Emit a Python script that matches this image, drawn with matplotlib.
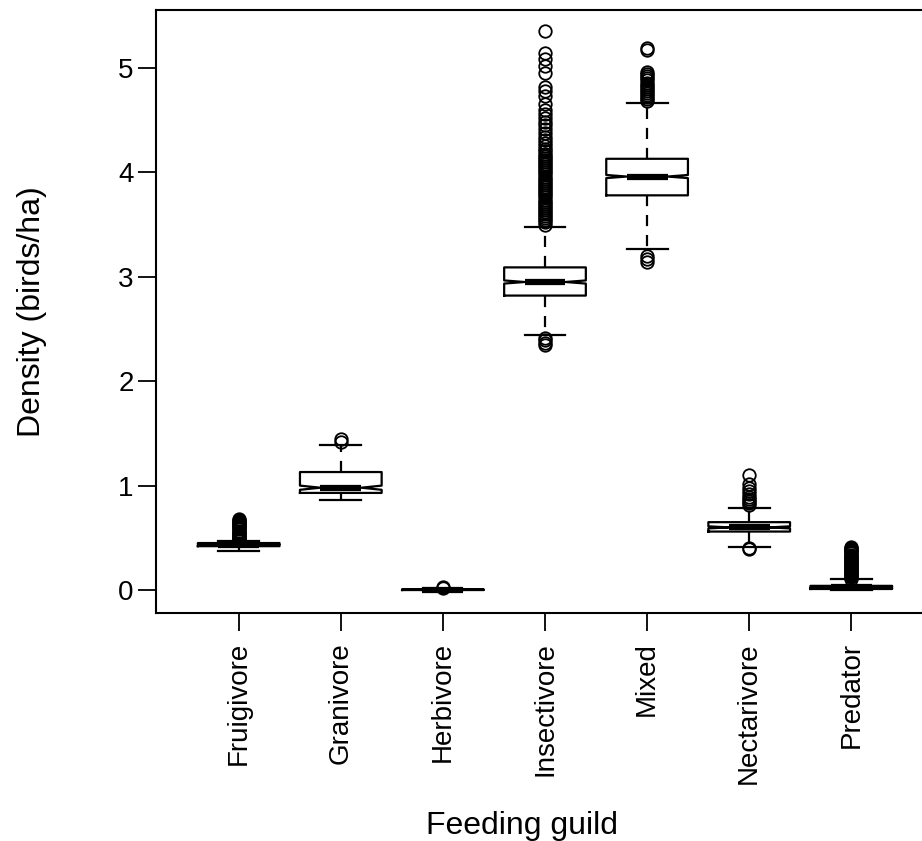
import matplotlib.pyplot as plt

# Feeding guild density, notched boxplot summary
guilds = ["Fruigivore", "Granivore", "Herbivore", "Insectivore", "Mixed", "Nectarivore", "Predator"]
q1 = [0.42, 0.93, 0.000, 2.82, 3.78, 0.56, 0.010]
med = [0.435, 0.98, 0.003, 2.95, 3.96, 0.60, 0.025]
q3 = [0.45, 1.13, 0.006, 3.09, 4.13, 0.65, 0.040]
whislo = [0.37, 0.86, 0.000, 2.44, 3.27, 0.41, 0.000]
whishi = [0.47, 1.39, 0.010, 3.48, 4.66, 0.79, 0.105]
notch_half = [0.004, 0.02, 0.002, 0.015, 0.015, 0.01, 0.004]

fliers = [
    [0.48, 0.49, 0.50, 0.51, 0.52, 0.53, 0.54, 0.55, 0.56, 0.57, 0.58, 0.59,
     0.60, 0.61, 0.62, 0.63, 0.64, 0.65, 0.66, 0.67, 0.68],
    [1.42, 1.45],
    [0.018, 0.025],
    [2.35, 2.37, 2.39, 2.41,
     3.50, 3.52, 3.54, 3.56, 3.58, 3.60, 3.62, 3.64, 3.66, 3.68, 3.70, 3.72,
     3.74, 3.76, 3.78, 3.80, 3.82, 3.84, 3.86, 3.88, 3.90, 3.92, 3.94, 3.96,
     3.98, 4.00, 4.02, 4.04, 4.06, 4.08, 4.10, 4.12, 4.14, 4.16, 4.18, 4.20,
     4.22, 4.25, 4.28, 4.31, 4.34, 4.38, 4.42, 4.45, 4.48, 4.52, 4.56, 4.60,
     4.65, 4.73, 4.78, 4.82, 4.95, 5.02, 5.09, 5.14, 5.35],
    [3.14, 3.17, 3.20,
     4.68, 4.70, 4.72, 4.74, 4.76, 4.78, 4.80, 4.82, 4.84, 4.86, 4.88, 4.90,
     4.92, 4.94, 4.96, 5.17, 5.19],
    [0.39, 0.40, 0.81, 0.83, 0.85, 0.87, 0.89, 0.92, 0.95, 0.98, 1.02, 1.10],
    [0.11, 0.12, 0.13, 0.14, 0.15, 0.16, 0.17, 0.18, 0.19, 0.20, 0.21, 0.22,
     0.23, 0.24, 0.25, 0.26, 0.27, 0.28, 0.29, 0.30, 0.31, 0.32, 0.33, 0.34,
     0.35, 0.36, 0.37, 0.38, 0.39, 0.40, 0.41],
]

stats = []
for i, g in enumerate(guilds):
    stats.append({
        "label": g, "q1": q1[i], "med": med[i], "q3": q3[i],
        "whislo": whislo[i], "whishi": whishi[i], "fliers": fliers[i],
        "cilo": med[i] - notch_half[i], "cihi": med[i] + notch_half[i],
    })

plt.rcParams['font.family'] = ['Liberation Sans', 'DejaVu Sans']

fig = plt.figure(figsize=(9.22, 8.41), dpi=100)
ax = fig.add_axes([156 / 922, 1 - 613 / 841, 778 / 922, 603 / 841])

ax.bxp(stats, positions=range(1, 8), widths=0.8, shownotches=True,
       boxprops=dict(color="black", linewidth=1.6),
       medianprops=dict(color="black", linewidth=4.5, solid_capstyle="butt"),
       whiskerprops=dict(color="black", linewidth=1.6, linestyle=(0, (5, 4))),
       capprops=dict(color="black", linewidth=1.6),
       flierprops=dict(marker="o", markerfacecolor="none", markeredgecolor="black",
                       markersize=9, markeredgewidth=1.3))

ax.set_xlim(0.19, 7.81)
ax.set_ylim(-0.22, 5.555)
ax.set_yticks([0, 1, 2, 3, 4, 5])
ax.set_xticks(range(1, 8))
ax.set_xticklabels(guilds, rotation=90)
ax.tick_params(axis="both", length=13, width=1.3, labelsize=20)
ax.tick_params(axis="y", pad=3)
ax.tick_params(axis="x", pad=8)
for s in ax.spines.values():
    s.set_linewidth(1.5)
ax.set_ylabel("Density (birds/ha)", fontsize=23)
ax.set_xlabel("Feeding guild", fontsize=23)
ax.yaxis.set_label_coords(-0.14, 0.5)
ax.xaxis.set_label_coords(0.47, -0.328)

fig.savefig("out.png", dpi=100)
